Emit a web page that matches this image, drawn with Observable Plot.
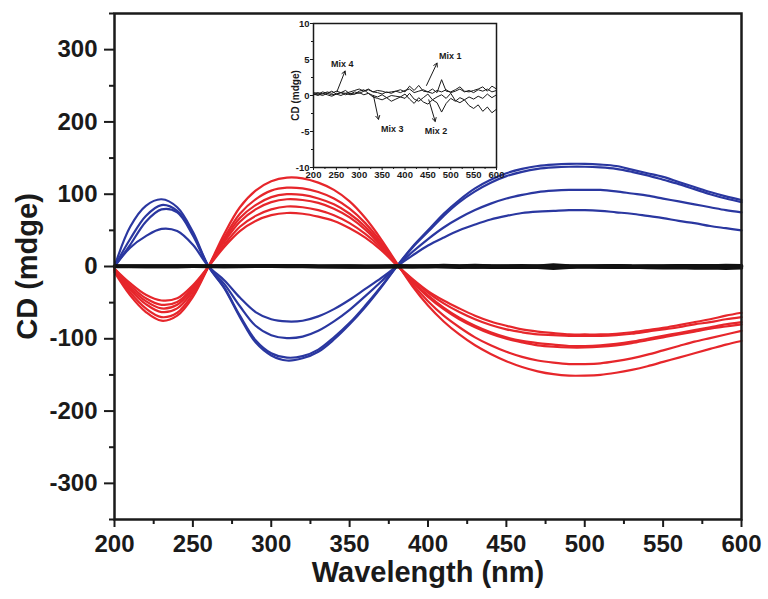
<!DOCTYPE html>
<html><head><meta charset="utf-8">
<script src="https://cdn.jsdelivr.net/npm/d3@7"></script>
<script src="https://cdn.jsdelivr.net/npm/@observablehq/plot@0.6"></script>
<style>
body{margin:0;background:#fff;}
#wrap{position:relative;width:768px;height:599px;}
#main{position:absolute;left:0;top:0;}
#inset{position:absolute;left:270px;top:10px;}
</style></head><body><div id="wrap"><div id="main"></div><div id="inset"></div></div>
<script>
// Wavelength grid (nm)
const wl = [200,210,220,230,240,250,260,270,280,290,300,310,320,330,340,350,360,370,380,390,400,410,420,430,440,450,460,470,480,490,500,510,520,530,540,550,560,570,580,590,600];

// Blue CD spectra (mdeg)
const blue1 = [0,55,84,93,82,48,0,-30,-70,-105,-123,-130,-127,-118,-101,-80,-56,-29,0,27,50,73,92,108,120,129,135,139,141,142,142,141,139,134,129,124,117,110,103,97,92];
const blue2 = [0,38,70,85,77,45,0,-29,-68,-102,-120,-126,-124,-115,-98,-78,-54,-28,0,26,48,70,89,104,116,125,131,135,137,138,138,137,135,131,126,120,114,107,100,94,89];
const blue3 = [0,30,62,79,75,43,0,-24,-55,-82,-95,-99,-97,-89,-76,-60,-41,-21,0,20,38,54,67,78,87,94,99,103,105,106,106,106,104,101,98,94,90,86,82,78,75];
const blue4 = [0,26,42,52,49,30,0,-19,-43,-63,-73,-76,-75,-69,-59,-46,-31,-16,0,15,29,40,50,58,65,70,74,76,77,78,78,77,75,73,70,67,63,60,56,53,50];

// Red CD spectra (mdeg)
const red1 = [-8,-40,-63,-75,-68,-42,0,45,82,105,118,123,122,116,106,90,67,38,5,-27,-54,-76,-94,-109,-121,-131,-139,-145,-149,-151,-151,-150,-147,-143,-138,-132,-126,-120,-114,-108,-103];
const red2 = [-6,-36,-58,-70,-64,-38,0,40,73,93,105,109,108,103,94,80,60,34,4,-24,-48,-68,-84,-98,-109,-118,-125,-130,-133,-135,-135,-134,-131,-127,-122,-116,-110,-104,-99,-94,-89];
const red3 = [-5,-32,-52,-63,-58,-34,0,37,67,85,96,100,99,94,86,73,55,31,3,-21,-42,-59,-73,-84,-93,-100,-105,-109,-111,-112,-112,-111,-109,-106,-102,-98,-94,-90,-86,-83,-80];
const red4 = [-4,-29,-48,-58,-53,-31,0,34,62,79,89,93,92,88,80,68,51,29,3,-20,-40,-57,-71,-82,-91,-98,-103,-106,-108,-110,-110,-109,-107,-104,-100,-96,-92,-88,-84,-80,-77];
const red5 = [-3,-26,-44,-53,-49,-29,0,30,55,70,79,83,82,78,71,60,45,26,2,-18,-36,-51,-63,-73,-81,-87,-91,-94,-95,-96,-96,-96,-95,-93,-90,-87,-84,-80,-77,-73,-70];
const red6 = [-3,-23,-39,-47,-44,-26,0,27,49,63,71,74,73,69,63,53,40,23,2,-17,-34,-47,-58,-68,-76,-82,-87,-90,-92,-94,-94,-94,-93,-91,-88,-85,-81,-77,-73,-68,-64];

// Control mixtures (mdeg)
const mix1 = [0.3,0.4,0.2,0.5,0.3,0.6,0.4,0.3,0.5,0.7,0.9,0.6,0.8,0.5,0.7,0.6,0.4,0.5,0.6,0.8,0.5,1.3,0.7,1.4,0.6,0.5,0.9,0.4,2.2,0.6,0.5,0.8,1.2,0.6,0.5,0.7,0.9,1.2,0.6,1.3,0.9];
const mix2 = [0.1,0.2,0.0,0.3,0.1,0.2,0.0,0.3,0.1,0.2,0.4,0.1,0.3,0.0,-0.2,0.1,-0.3,0.0,-0.1,-0.2,0.2,-0.5,-1.1,-0.3,-0.9,-1.2,-0.6,-1.0,-2.3,-1.1,-0.4,-0.8,-0.3,-0.6,-0.2,-0.5,-0.1,-0.4,0.2,-0.3,0.1];
const mix3 = [0.2,0.0,0.3,0.1,-0.1,0.2,0.4,0.1,0.3,0.2,0.6,0.8,0.3,-0.2,-0.4,-0.6,-0.3,-0.8,-0.5,-0.2,-0.4,0.3,-0.5,-0.8,-0.3,0.2,-0.6,-0.2,0.1,-0.4,0.3,-0.7,-1.0,-0.6,-1.4,-1.8,-1.3,-2.2,-1.6,-2.4,-1.9];
const mix4 = [0.4,0.2,0.5,0.3,0.6,0.2,0.4,0.7,0.2,0.5,0.3,0.6,0.9,0.5,0.4,0.2,0.5,0.3,0.6,0.4,0.7,0.9,0.4,0.6,0.8,0.5,0.3,0.7,0.5,0.8,0.4,0.6,0.9,0.5,0.7,0.4,0.8,0.6,0.9,0.5,0.7];

// Ticks
const xTicks = [200,250,300,350,400,450,500,550,600];
const xMinor = [225,275,325,375,425,475,525,575];
const yTicks = [-300,-200,-100,0,100,200,300];
const yMinor = [-350,-250,-150,-50,50,150,250,350];
const inYTicks = [-10,-5,0,5,10];
const inYMinor = [-7.5,-2.5,2.5,7.5];

// Inset annotations
const mixNames = ["Mix 1","Mix 2","Mix 3","Mix 4"];
const labX = [499,468,372,263];
const labY = [5.5,-4.9,-4.6,4.4];
const tailX = [447,452,331,251];
const tailY = [1.4,-0.6,0.0,0.5];
const headX = [470,466,342,269];
const headY = [4.5,-3.6,-3.3,3.4];

const rows = (arr, name) => wl.map((w, i) => ({wl: w, cd: arr[i], s: name}));
const blueRows = [blue1,blue2,blue3,blue4].flatMap((a,i)=>rows(a,"b"+i));
const redRows = [red1,red2,red3,red4,red5,red6].flatMap((a,i)=>rows(a,"r"+i));
const mixRows = [mix1,mix2,mix3,mix4].flatMap((a,i)=>rows(a,mixNames[i]));
const ann = mixNames.map((n,i)=>({n, lx:labX[i], ly:labY[i], x1:tailX[i], y1:tailY[i], x2:headX[i], y2:headY[i]}));

const FONT = "'Liberation Sans', Arial, Helvetica, sans-serif";
const BLUE = "#2a37a0", RED = "#e6262b";
const hyph = d => String(d);

const main = Plot.plot({
  width: 768, height: 599,
  marginLeft: 114, marginRight: 27, marginTop: 13, marginBottom: 80,
  x: {domain: [200, 600], label: null},
  y: {domain: [-350, 350], label: null},
  style: {fontFamily: FONT, background: "transparent", color: "#1a1a1a"},
  marks: [
    Plot.line(blueRows, {x: "wl", y: "cd", z: "s", stroke: BLUE, strokeWidth: 2.2, curve: "catmull-rom"}),
    Plot.line(redRows, {x: "wl", y: "cd", z: "s", stroke: RED, strokeWidth: 2.2, curve: "catmull-rom"}),
    Plot.line(mixRows, {x: "wl", y: "cd", z: "s", stroke: "#111", strokeWidth: 3.5}),
    Plot.frame({stroke: "#1a1a1a", strokeWidth: 2.5}),
    Plot.axisX({ticks: xTicks, tickFormat: hyph, tickSize: 8, tickPadding: 7, fontSize: 24, fontWeight: "bold", strokeWidth: 2, label: null}),
    Plot.axisX({ticks: xMinor, tickSize: 5, tickFormat: () => "", strokeWidth: 2, label: null}),
    Plot.axisY({ticks: yTicks, tickFormat: hyph, tickSize: 10, tickPadding: 7, fontSize: 24, fontWeight: "bold", strokeWidth: 2, label: null}),
    Plot.axisY({ticks: yMinor, tickSize: 5, tickFormat: () => "", strokeWidth: 2, label: null}),
    Plot.text(["Wavelength (nm)"], {frameAnchor: "bottom", textAnchor: "middle", dy: 62, fontSize: 29, fontWeight: "bold", fill: "#1a1a1a"}),
    Plot.text(["CD (mdge)"], {frameAnchor: "left", textAnchor: "middle", dx: -87, rotate: -90, fontSize: 29, fontWeight: "bold", fill: "#1a1a1a"})
  ]
});
document.getElementById("main").appendChild(main);

const inset = Plot.plot({
  width: 236, height: 175,
  marginLeft: 43, marginRight: 10, marginTop: 13, marginBottom: 18,
  x: {domain: [200, 600], label: null},
  y: {domain: [-10, 10], label: null},
  style: {fontFamily: FONT, background: "transparent", color: "#1a1a1a"},
  marks: [
    Plot.line(mixRows, {x: "wl", y: "cd", z: "s", stroke: "#1a1a1a", strokeWidth: 1}),
    Plot.arrow(ann, {x1: "x1", y1: "y1", x2: "x2", y2: "y2", stroke: "#1a1a1a", strokeWidth: 1, headLength: 6}),
    Plot.text(ann, {x: "lx", y: "ly", text: "n", fontSize: 9, fontWeight: "bold", fill: "#1a1a1a"}),
    Plot.frame({stroke: "#1a1a1a", strokeWidth: 1.5}),
    Plot.axisX({ticks: xTicks, tickFormat: hyph, tickSize: 3, tickPadding: 1, fontSize: 9.5, fontWeight: "bold", label: null}),
    Plot.axisX({ticks: xMinor, tickSize: 2, tickFormat: () => "", label: null}),
    Plot.axisY({ticks: inYTicks, tickFormat: hyph, tickSize: 3, tickPadding: 1, fontSize: 9.5, fontWeight: "bold", label: null}),
    Plot.axisY({ticks: inYMinor, tickSize: 2, tickFormat: () => "", label: null}),
    Plot.text(["CD (mdge)"], {frameAnchor: "left", textAnchor: "middle", dx: -18, rotate: -90, fontSize: 10, fontWeight: "bold", fill: "#1a1a1a"})
  ]
});
document.getElementById("inset").appendChild(inset);
</script></body></html>
